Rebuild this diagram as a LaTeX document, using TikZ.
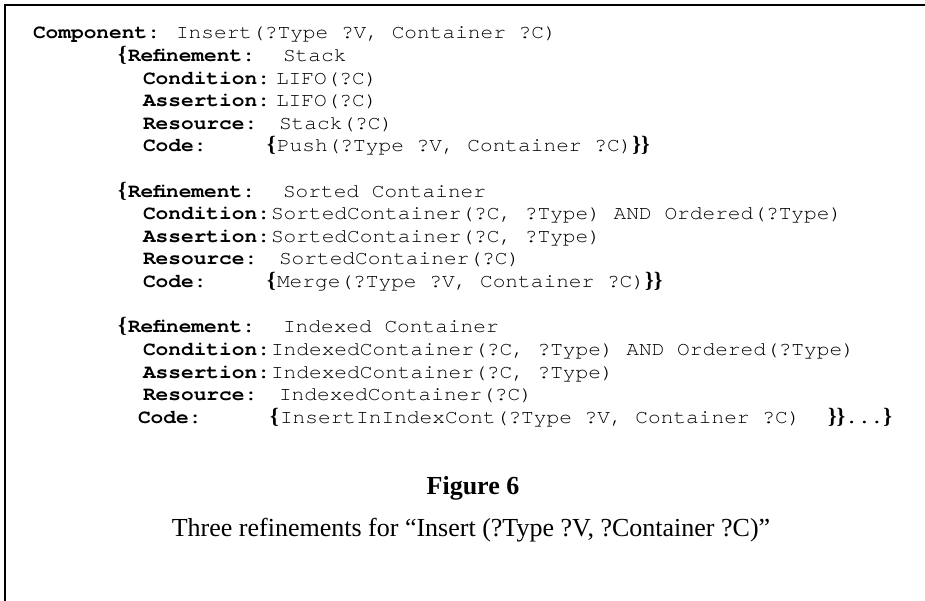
\documentclass[tikz,border=0pt]{standalone}
\usepackage{fontspec}
\setmainfont{Liberation Serif}
\newfontfamily\codefont[FakeStretch=1.085, BoldFont=texgyrecursor-bold.otf]{texgyrecursor-regular.otf}
\tikzset{
  lbl/.style={anchor=base west, inner sep=0pt, outer sep=0pt, font=\codefont\fontsize{19.5}{22}\selectfont\bfseries},
  val/.style={anchor=base west, inner sep=0pt, outer sep=0pt, font=\codefont\fontsize{19.5}{22}\selectfont},
  brc/.style={anchor=base west, inner sep=0pt, outer sep=0pt, font=\fontsize{22}{24}\selectfont\bfseries},
  capt/.style={anchor=base, inner sep=0pt, outer sep=0pt, font=\fontsize{26}{28}\selectfont},
  frame/.style={line width=2pt, black}
}
\begin{document}
\begin{tikzpicture}[x=1pt,y=-1pt]
\useasboundingbox (0,0) rectangle (925,601);
% frame (top and left edges)
\coordinate (tl) at (5,5);
\coordinate (tr) at (925,5);
\coordinate (bl) at (5,601);
\draw[frame] (tr) -- (tl) -- (bl);

% line 0
\node[lbl] (comp) at (33,39) {Component:};
\node[val] (compv) at (176,39) {Insert(?Type ?V, Container ?C)};

% block 1
\node[brc] (b1) at (118,61.6) {\{};
\node[lbl] (r1) at (128,61.6) {Refinement:};
\node[val] (r1v) at (283,61.6) {Stack};
\node[lbl] (cn1) at (143,84.2) {Condition:};
\node[val] (cn1v) at (276,84.2) {LIFO(?C)};
\node[lbl] (as1) at (143,106.8) {Assertion:};
\node[val] (as1v) at (276,106.8) {LIFO(?C)};
\node[lbl] (rs1) at (143,129.4) {Resource:};
\node[val] (rs1v) at (279,129.4) {Stack(?C)};
\node[lbl] (cd1) at (143,152) {Code:};
\node[brc] (cd1a) at (267,152) {\{};
\node[val] (cd1v) at (277,152) {Push(?Type ?V, Container ?C)};
\node[brc] (cd1b) at (cd1v.base east) {\}\}};

% block 2
\node[brc] (b2) at (118,197.2) {\{};
\node[lbl] (r2) at (128,197.2) {Refinement:};
\node[val] (r2v) at (283,197.2) {Sorted Container};
\node[lbl] (cn2) at (143,219.8) {Condition:};
\node[val] (cn2v) at (271,219.8) {SortedContainer(?C, ?Type) AND Ordered(?Type)};
\node[lbl] (as2) at (143,242.4) {Assertion:};
\node[val] (as2v) at (271,242.4) {SortedContainer(?C, ?Type)};
\node[lbl] (rs2) at (143,265) {Resource:};
\node[val] (rs2v) at (279,265) {SortedContainer(?C)};
\node[lbl] (cd2) at (143,287.6) {Code:};
\node[brc] (cd2a) at (267,287.6) {\{};
\node[val] (cd2v) at (277,287.6) {Merge(?Type ?V, Container ?C)};
\node[brc] (cd2b) at (cd2v.base east) {\}\}};

% block 3
\node[brc] (b3) at (118,332.8) {\{};
\node[lbl] (r3) at (128,332.8) {Refinement:};
\node[val] (r3v) at (283,332.8) {Indexed Container};
\node[lbl] (cn3) at (143,355.4) {Condition:};
\node[val] (cn3v) at (271,355.4) {IndexedContainer(?C, ?Type) AND Ordered(?Type)};
\node[lbl] (as3) at (143,378) {Assertion:};
\node[val] (as3v) at (271,378) {IndexedContainer(?C, ?Type)};
\node[lbl] (rs3) at (143,400.6) {Resource:};
\node[val] (rs3v) at (279,400.6) {IndexedContainer(?C)};
\node[lbl] (cd3) at (138,423.2) {Code:};
\node[brc] (cd3a) at (270,423.2) {\{};
\node[val] (cd3v) at (280,423.2) {InsertInIndexCont(?Type ?V, Container ?C)};
\node[brc] (cd3b) at (828,423.2) {\}\}};
\node[lbl] (cd3c) at (cd3b.base east) {...};
\node[brc] (cd3d) at (cd3c.base east) {\}};

% caption
\node[capt, font=\fontsize{26}{28}\selectfont\bfseries] (fig) at (473,494) {Figure 6};
\node[capt] (cap) at (471,536) {Three refinements for “Insert (?Type ?V, ?Container ?C)”};
\end{tikzpicture}
\end{document}
